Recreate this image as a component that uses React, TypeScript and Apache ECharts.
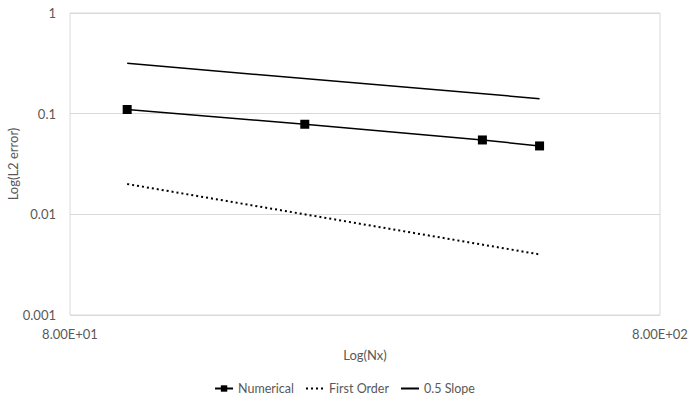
import React, { useEffect, useRef } from "react";
import * as echarts from "echarts";

const nx = [100, 200, 400, 500];
const numerical = [0.11, 0.0785, 0.0548, 0.0478];
const firstOrderX = [100, 500];
const firstOrder = [0.02, 0.004];
const halfSlopeX = [100, 500];
const halfSlope = [0.316, 0.141];
const xTickValues = [80, 800];
const xTickLabels = ["8.00E+01", "8.00E+02"];
const yTickExps = [0, -1, -2, -3];
const yTickLabels = ["1", "0.1", "0.01", "0.001"];

const FONT = "Lato, 'Open Sans', sans-serif";
const TXT = "#595959";
const HIDDEN = { color: "rgba(0,0,0,0)", borderColor: "rgba(0,0,0,0)", borderWidth: 0 };

export default function App() {
  const ref = useRef<HTMLDivElement>(null);
  useEffect(() => {
    if (!ref.current) return;
    const chart = echarts.init(ref.current, undefined, { renderer: "svg" });
    const pair = (xs: number[], ys: number[]) => xs.map((x, i) => [x, ys[i]]);
    chart.setOption({
      animation: false,
      textStyle: { fontFamily: FONT },
      grid: {
        left: 70,
        right: 29,
        top: 13,
        bottom: 81,
        show: true,
        borderColor: "#d9d9d9",
        borderWidth: 1,
        outerBoundsMode: "none",
      },
      xAxis: {
        type: "log",
        logBase: 10,
        min: 80,
        max: 800,
        name: "Log(Nx)",
        nameLocation: "middle",
        nameGap: 33,
        nameMoveOverlap: false,
        nameTextStyle: { color: TXT, fontSize: 13, fontFamily: FONT },
        axisLine: { show: false },
        axisTick: { show: false },
        splitLine: { show: false },
        axisLabel: {
          color: TXT,
          fontSize: 13,
          fontFamily: FONT,
          margin: 12,
          showMinLabel: true,
          showMaxLabel: true,
          formatter: (v: number) => {
            for (let i = 0; i < xTickValues.length; i++) {
              if (Math.abs(v - xTickValues[i]) / xTickValues[i] < 1e-6) return xTickLabels[i];
            }
            return "";
          },
        },
      },
      yAxis: {
        type: "log",
        logBase: 10,
        min: 0.001,
        max: 1,
        name: "Log(L2 error)",
        nameLocation: "middle",
        nameGap: 51,
        nameMoveOverlap: false,
        nameTextStyle: { color: TXT, fontSize: 13, fontFamily: FONT },
        axisLine: { show: false },
        axisTick: { show: false },
        splitLine: { show: true, lineStyle: { color: "#d9d9d9", width: 1 } },
        axisLabel: {
          color: TXT,
          fontSize: 13,
          fontFamily: FONT,
          margin: 14,
          formatter: (v: number) => {
            const e = Math.round(Math.log10(v));
            const i = yTickExps.indexOf(e);
            return i >= 0 ? yTickLabels[i] : "";
          },
        },
      },
      legend: {
        top: 377,
        left: "center",
        itemWidth: 18,
        itemHeight: 8,
        itemGap: 11,
        textStyle: { color: TXT, fontSize: 12.5, fontFamily: FONT },
        data: [
          { name: "Numerical" },
          { name: "First Order", itemStyle: HIDDEN },
          { name: "0.5 Slope", itemStyle: HIDDEN },
        ],
      },
      series: [
        {
          name: "Numerical",
          type: "line",
          data: pair(nx, numerical),
          symbol: "rect",
          symbolSize: 9,
          itemStyle: { color: "#000" },
          lineStyle: { color: "#000", width: 1.5 },
        },
        {
          name: "First Order",
          type: "line",
          data: pair(firstOrderX, firstOrder),
          symbol: "none",
          itemStyle: { color: "#000" },
          lineStyle: { color: "#000", width: 2, type: [2, 3] },
        },
        {
          name: "0.5 Slope",
          type: "line",
          data: pair(halfSlopeX, halfSlope),
          symbol: "none",
          itemStyle: { color: "#000" },
          lineStyle: { color: "#000", width: 1.5 },
        },
      ],
    });
    return () => chart.dispose();
  }, []);
  return <div ref={ref} style={{ width: 689, height: 396, position: "absolute", left: 0, top: 0 }} />;
}
